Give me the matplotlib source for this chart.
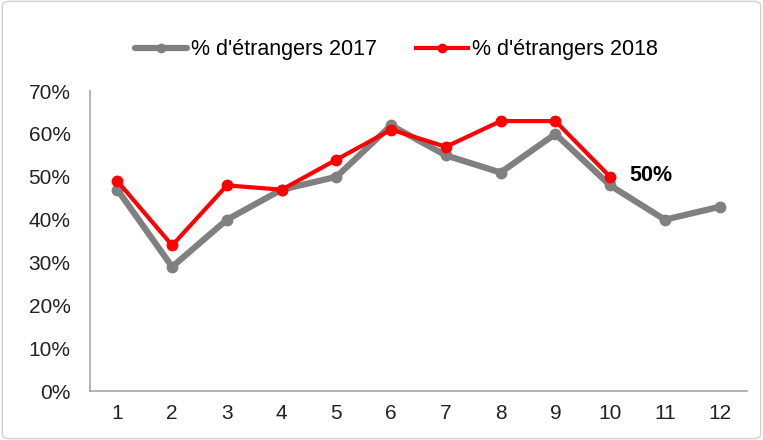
import matplotlib.pyplot as plt
from matplotlib.patches import FancyBboxPatch
from matplotlib.ticker import PercentFormatter

plt.rcParams['font.family'] = ['Liberation Sans', 'DejaVu Sans']

months = [1, 2, 3, 4, 5, 6, 7, 8, 9, 10, 11, 12]
pct_2017 = [47, 29, 40, 47, 50, 62, 55, 51, 60, 48, 40, 43]
months_2018 = [1, 2, 3, 4, 5, 6, 7, 8, 9, 10]
pct_2018 = [49, 34, 48, 47, 54, 61, 57, 63, 63, 50]
yticks = [0, 10, 20, 30, 40, 50, 60, 70]
label_2017 = "% d'étrangers 2017"
label_2018 = "% d'étrangers 2018"

fig = plt.figure(figsize=(7.63, 4.4), dpi=100)
ax = fig.add_axes([0.118, 0.111, 0.861, 0.682])

ax.plot(months, pct_2017, color='#808080', lw=4.5, marker='o', ms=7.5,
        solid_capstyle='round', label=label_2017, zorder=2)
ax.plot(months_2018, pct_2018, color='#ff0000', lw=3, marker='o', ms=7.5,
        label=label_2018, zorder=3)

ax.annotate(f"{pct_2018[-1]}%", (months_2018[-1], pct_2018[-1]), xytext=(14, 1),
            textcoords='offset points', ha='left', va='center',
            fontsize=15.5, fontweight='bold', color='black')

ax.set_xlim(0.5, 12.5)
ax.set_ylim(0, 70)
ax.set_xticks(months)
ax.set_yticks(yticks)
ax.yaxis.set_major_formatter(PercentFormatter(decimals=0))
ax.tick_params(axis='both', labelsize=15, colors='#222222', length=0)
ax.tick_params(axis='y', pad=14)
ax.tick_params(axis='x', pad=9)
for s in ['top', 'right']:
    ax.spines[s].set_visible(False)
for s in ['left', 'bottom']:
    ax.spines[s].set_color('#a6a6a6')
    ax.spines[s].set_linewidth(1.2)

fig.legend(loc='upper center', bbox_to_anchor=(0.52, 0.955), ncol=2, frameon=False,
           fontsize=15.5, handlelength=2.4, handletextpad=0.2, columnspacing=1.8,
           markerscale=0.8)

border = FancyBboxPatch((0.003, 0.003), 0.994, 0.994, boxstyle='round,pad=0,rounding_size=0.01',
                        transform=fig.transFigure, fill=False, edgecolor='#d0d0d0', lw=1)
fig.patches.append(border)

fig.savefig('out.png', dpi=100)
